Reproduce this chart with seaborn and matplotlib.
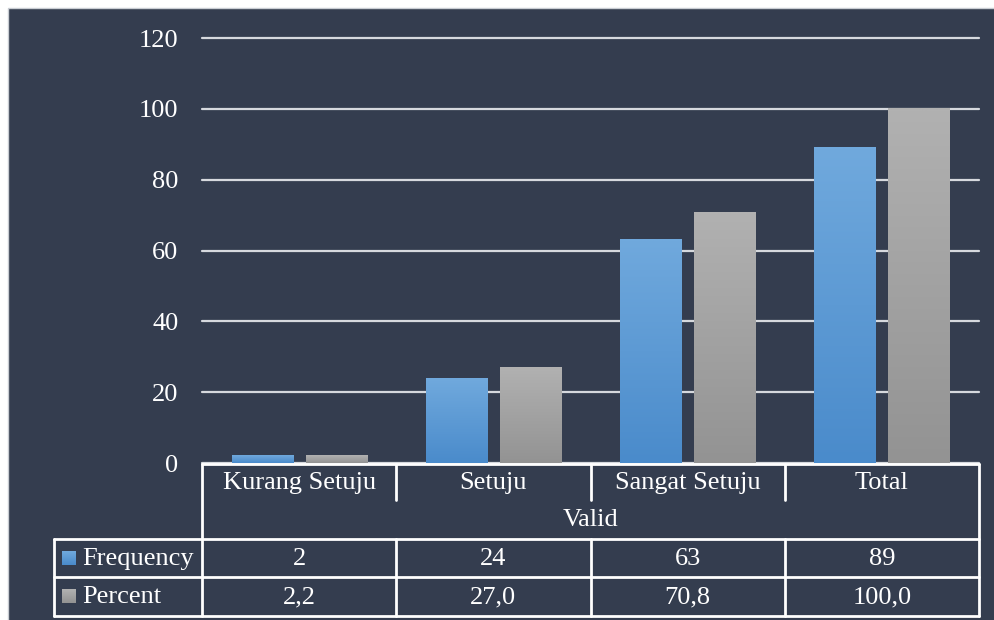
import numpy as np
import pandas as pd
import matplotlib
matplotlib.use("Agg")
import matplotlib.pyplot as plt
from matplotlib.lines import Line2D
from matplotlib.patches import Rectangle
import seaborn as sns

# Data
categories = ["Kurang Setuju", "Setuju", "Sangat Setuju", "Total"]
group_label = "Valid"
series_names = ["Frequency", "Percent"]
frequency = [2, 24, 63, 89]
percent = [2.2, 27.0, 70.8, 100.0]
y_ticks = [0, 20, 40, 60, 80, 100, 120]

df = pd.DataFrame({
    "Category": categories * 2,
    "Series": [series_names[0]] * len(categories) + [series_names[1]] * len(categories),
    "Value": frequency + percent,
})

BG = "#343d4f"
FG = "#ffffff"
GRID = "#d6d9de"
grad = {
    series_names[0]: ("#70a9dd", "#4a8bcb"),
    series_names[1]: ("#b1b1b1", "#939393"),
}

W, H = 994, 620
sns.set_theme(style="white")
plt.rcParams["font.family"] = ["Liberation Serif", "DejaVu Serif"]
fs = 19

fig = plt.figure(figsize=(W / 100, H / 100), dpi=100)
fig.patch.set_facecolor("#ffffff")


def fx(px):
    return px / W


def fy(py):
    return 1 - py / H


# dark panel with a thin light frame (frame visible on top and left only)
fig.add_artist(Rectangle((fx(8), -0.1), 1.2, fy(8) + 0.1, transform=fig.transFigure,
                         facecolor=BG, edgecolor="#c9cdd3", linewidth=1.0, zorder=0))

ax_l, ax_r, ax_t, ax_b = 202, 979, 38, 463
ax = fig.add_axes([fx(ax_l), fy(ax_b), fx(ax_r - ax_l), (ax_b - ax_t) / H])
ax.set_facecolor("none")

palette = {k: v[1] for k, v in grad.items()}
sns.barplot(data=df, x="Category", y="Value", hue="Series", order=categories,
            hue_order=series_names, palette=palette, width=0.762, gap=0.175,
            legend=False, ax=ax, zorder=3)

# vertical gradient fill inside each bar
n = len(categories)
for i, patch in enumerate(ax.patches):
    s = series_names[i // n]
    top, bot = [np.array(matplotlib.colors.to_rgb(c)) for c in grad[s]]
    t = np.linspace(0, 1, 64)[:, None]
    img = (top * (1 - t) + bot * t)[:, None, :]
    x0, w, h = patch.get_x(), patch.get_width(), patch.get_height()
    ax.imshow(img, extent=[x0, x0 + w, 0, h], aspect="auto", zorder=3,
              interpolation="bilinear")
    patch.set_facecolor("none")
    patch.set_edgecolor("none")

ax.set_xlim(-0.5, n - 0.5)
ax.set_ylim(0, 120)
ax.set_yticks(y_ticks)
ax.set_yticklabels([str(v) for v in y_ticks], color=FG, fontsize=fs)
ax.tick_params(axis="y", length=0, pad=17)
ax.tick_params(axis="x", length=0, labelbottom=False)
ax.set_xlabel("")
ax.set_ylabel("")
for sp in ax.spines.values():
    sp.set_visible(False)
ax.yaxis.grid(True, color=GRID, linewidth=1.6, zorder=1)
ax.set_axisbelow(True)
for gl in ax.get_ygridlines():
    gl.set_clip_on(False)

# data table beneath the axes
LW = 2.0


def hline(y, x0, x1):
    fig.add_artist(Line2D([fx(x0), fx(x1)], [fy(y), fy(y)], color=FG, lw=LW,
                          transform=fig.transFigure, zorder=5))


def vline(x, y0, y1):
    fig.add_artist(Line2D([fx(x), fx(x)], [fy(y0), fy(y1)], color=FG, lw=LW,
                          transform=fig.transFigure, zorder=5))


col_edges = [202, 396.25, 590.5, 784.75, 979]
row_cat, row_grp, row_f, row_p, row_end = 464, 500, 538.5, 577, 615.5
left_x = 54

hline(row_cat, col_edges[0], col_edges[-1])
hline(row_f, left_x, col_edges[-1])
hline(row_p, left_x, col_edges[-1])
hline(row_end, left_x, col_edges[-1])
vline(col_edges[0], row_cat, row_end)
vline(col_edges[-1], row_cat, row_end)
vline(left_x, row_f, row_end)
for xe in col_edges[1:-1]:
    vline(xe, row_cat, row_grp)
    vline(xe, row_f, row_end)

centers = [(col_edges[i] + col_edges[i + 1]) / 2 for i in range(n)]
for c, lab in zip(centers, categories):
    fig.text(fx(c), fy((row_cat + row_grp) / 2 + 1), lab, color=FG, fontsize=fs,
             ha="center", va="center")
fig.text(fx((col_edges[0] + col_edges[-1]) / 2), fy((row_grp + row_f) / 2 + 1),
         group_label, color=FG, fontsize=fs, ha="center", va="center")


def fmt(v):
    return f"{v:.1f}".replace(".", ",")


row_vals = [[str(v) for v in frequency], [fmt(v) for v in percent]]
row_mid = [(row_f + row_p) / 2, (row_p + row_end) / 2]
for r, (name, vals) in enumerate(zip(series_names, row_vals)):
    ym = row_mid[r]
    for c, txt in zip(centers, vals):
        fig.text(fx(c), fy(ym + 1), txt, color=FG, fontsize=fs, ha="center", va="center")
    top_c, bot_c = [np.array(matplotlib.colors.to_rgb(cc)) for cc in grad[name]]
    sq = fig.add_axes([fx(62), fy(ym + 7), fx(14), 14 / H])
    t = np.linspace(0, 1, 16)[:, None]
    sq.imshow((top_c * (1 - t) + bot_c * t)[:, None, :], aspect="auto",
              interpolation="bilinear")
    sq.axis("off")
    fig.text(fx(82), fy(ym + 1), name, color=FG, fontsize=fs, ha="left", va="center")

fig.savefig("out.png", dpi=100, facecolor=fig.get_facecolor())
